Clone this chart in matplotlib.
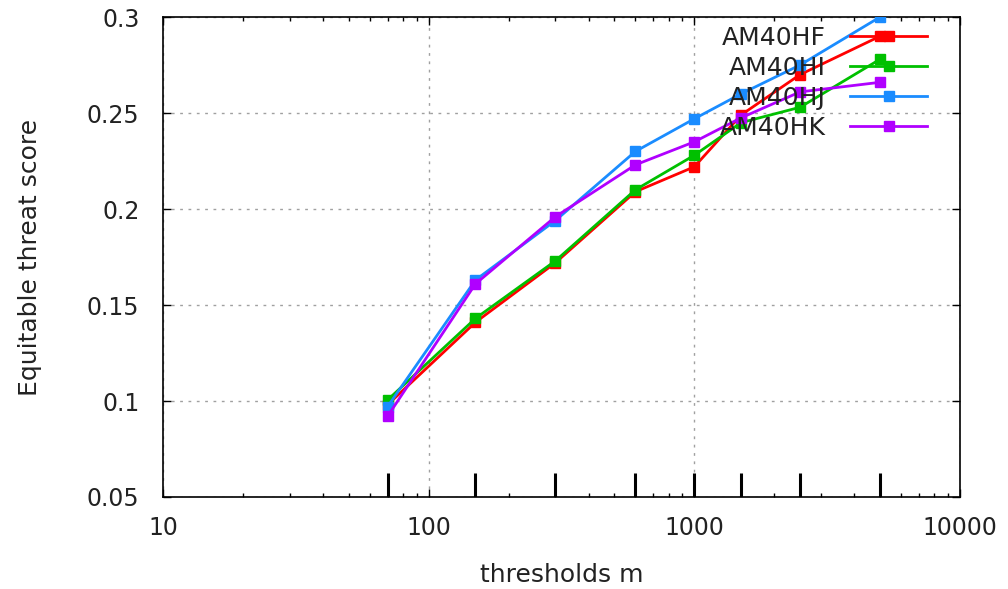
import matplotlib
matplotlib.use('Agg')
import matplotlib.pyplot as plt
import matplotlib.transforms as mtransforms
from matplotlib.ticker import FixedLocator, FuncFormatter, LogLocator

thresholds = [70, 150, 300, 600, 1000, 1500, 2500, 5000]
series_names = ['AM40HF', 'AM40HI', 'AM40HJ', 'AM40HK']
ets_hf = [0.098, 0.141, 0.172, 0.209, 0.222, 0.249, 0.270, 0.290]
ets_hi = [0.1005, 0.143, 0.173, 0.210, 0.228, 0.245, 0.253, 0.278]
ets_hj = [0.097, 0.163, 0.194, 0.230, 0.247, 0.260, 0.275, 0.300]
ets_hk = [0.092, 0.161, 0.196, 0.223, 0.235, 0.2475, 0.261, 0.266]
x_ticks = [10, 100, 1000, 10000]
y_ticks = [0.05, 0.1, 0.15, 0.2, 0.25, 0.3]

COLORS = ['#ff0000', '#00c000', '#1a8cff', '#b000ff']
FS_TICK = 17
FS_LAB = 18
TXT = '#222222'

plt.rcParams['font.family'] = 'DejaVu Sans'

fig = plt.figure(figsize=(10.08, 5.89), dpi=100)
ax = fig.add_axes([0.1617, 0.1562, 0.7907, 0.8149])

for name, vals, col in zip(series_names, [ets_hf, ets_hi, ets_hj, ets_hk], COLORS):
    ax.plot(thresholds, vals, color=col, lw=2.0, marker='s', ms=6.5,
            mec=col, mfc=col, label=name, zorder=3)

ax.set_xscale('log')
ax.set_xlim(10, 10000)
ax.set_ylim(0.05, 0.3)

ax.xaxis.set_major_locator(FixedLocator(x_ticks))
ax.xaxis.set_minor_locator(LogLocator(base=10, subs=range(2, 10)))
ax.xaxis.set_major_formatter(FuncFormatter(lambda v, p: f'{v:g}'))
ax.xaxis.set_minor_formatter(FuncFormatter(lambda v, p: ''))
ax.yaxis.set_major_locator(FixedLocator(y_ticks))
ax.yaxis.set_major_formatter(FuncFormatter(lambda v, p: f'{v:g}'))

ax.tick_params(which='major', direction='in', length=6, width=1,
               top=True, right=True, labelsize=FS_TICK, colors='black')
ax.tick_params(which='minor', direction='in', length=3, width=1,
               top=True, right=True)
ax.tick_params(axis='y', labelcolor=TXT, pad=17)
ax.tick_params(axis='x', labelcolor=TXT, pad=14)

ax.grid(True, which='major', color='#a0a0a0', linestyle=(0, (2, 4)), lw=1)

for sp in ax.spines.values():
    sp.set_color('black')
    sp.set_linewidth(1.2)

# threshold marks along the bottom axis
trans = mtransforms.blended_transform_factory(ax.transData, ax.transAxes)
ax.vlines(thresholds, 0, 0.05, transform=trans, color='black', lw=2.2, zorder=4)

ax.set_xlabel('thresholds m', fontsize=FS_LAB, color=TXT, labelpad=16)
ax.set_ylabel('Equitable threat score', fontsize=FS_LAB, color=TXT, labelpad=32)

leg = ax.legend(loc='upper right', bbox_to_anchor=(0.9586, 0.982), frameon=False,
                fontsize=FS_LAB, markerfirst=False, handlelength=3.08,
                handletextpad=0.96, labelspacing=0.24, borderaxespad=0,
                borderpad=0)
for t in leg.get_texts():
    t.set_color(TXT)

fig.savefig('out.png', dpi=100)
